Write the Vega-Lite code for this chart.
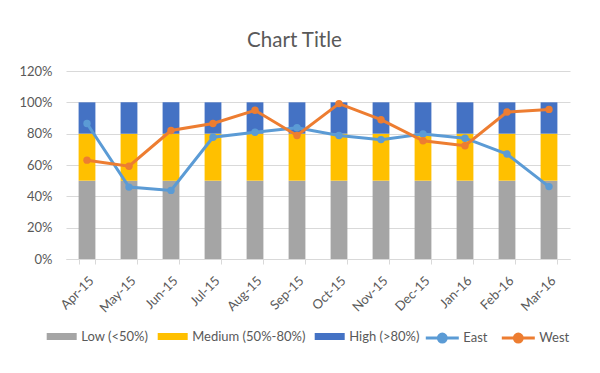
{
  "$schema": "https://vega.github.io/schema/vega-lite/v6.json",
  "width": 504,
  "height": 188,
  "autosize": "none",
  "padding": {"top": 71, "left": 66, "right": 30, "bottom": 114},
  "background": "white",
  "title": {"text": "Chart Title", "frame": "bounds", "anchor": "middle", "fontSize": 20.5, "fontWeight": "normal", "color": "#595959", "font": "Lato", "offset": 14},
  "config": {
    "view": {"stroke": null},
    "font": "Lato",
    "axis": {"labelFont": "Lato", "labelFontSize": 13, "labelColor": "#595959", "gridColor": "#d9d9d9", "domainColor": "#d9d9d9", "tickColor": "#d9d9d9"},
    "legend": {"labelFont": "Lato", "labelFontSize": 13, "labelColor": "#595959"}
  },
  "datasets": {
    "bars": [
      {"month": "Apr-15", "band": "Low (<50%)", "ord": 1, "value": 0.5},
      {"month": "Apr-15", "band": "Medium (50%-80%)", "ord": 2, "value": 0.3},
      {"month": "Apr-15", "band": "High (>80%)", "ord": 3, "value": 0.2},
      {"month": "May-15", "band": "Low (<50%)", "ord": 1, "value": 0.5},
      {"month": "May-15", "band": "Medium (50%-80%)", "ord": 2, "value": 0.3},
      {"month": "May-15", "band": "High (>80%)", "ord": 3, "value": 0.2},
      {"month": "Jun-15", "band": "Low (<50%)", "ord": 1, "value": 0.5},
      {"month": "Jun-15", "band": "Medium (50%-80%)", "ord": 2, "value": 0.3},
      {"month": "Jun-15", "band": "High (>80%)", "ord": 3, "value": 0.2},
      {"month": "Jul-15", "band": "Low (<50%)", "ord": 1, "value": 0.5},
      {"month": "Jul-15", "band": "Medium (50%-80%)", "ord": 2, "value": 0.3},
      {"month": "Jul-15", "band": "High (>80%)", "ord": 3, "value": 0.2},
      {"month": "Aug-15", "band": "Low (<50%)", "ord": 1, "value": 0.5},
      {"month": "Aug-15", "band": "Medium (50%-80%)", "ord": 2, "value": 0.3},
      {"month": "Aug-15", "band": "High (>80%)", "ord": 3, "value": 0.2},
      {"month": "Sep-15", "band": "Low (<50%)", "ord": 1, "value": 0.5},
      {"month": "Sep-15", "band": "Medium (50%-80%)", "ord": 2, "value": 0.3},
      {"month": "Sep-15", "band": "High (>80%)", "ord": 3, "value": 0.2},
      {"month": "Oct-15", "band": "Low (<50%)", "ord": 1, "value": 0.5},
      {"month": "Oct-15", "band": "Medium (50%-80%)", "ord": 2, "value": 0.3},
      {"month": "Oct-15", "band": "High (>80%)", "ord": 3, "value": 0.2},
      {"month": "Nov-15", "band": "Low (<50%)", "ord": 1, "value": 0.5},
      {"month": "Nov-15", "band": "Medium (50%-80%)", "ord": 2, "value": 0.3},
      {"month": "Nov-15", "band": "High (>80%)", "ord": 3, "value": 0.2},
      {"month": "Dec-15", "band": "Low (<50%)", "ord": 1, "value": 0.5},
      {"month": "Dec-15", "band": "Medium (50%-80%)", "ord": 2, "value": 0.3},
      {"month": "Dec-15", "band": "High (>80%)", "ord": 3, "value": 0.2},
      {"month": "Jan-16", "band": "Low (<50%)", "ord": 1, "value": 0.5},
      {"month": "Jan-16", "band": "Medium (50%-80%)", "ord": 2, "value": 0.3},
      {"month": "Jan-16", "band": "High (>80%)", "ord": 3, "value": 0.2},
      {"month": "Feb-16", "band": "Low (<50%)", "ord": 1, "value": 0.5},
      {"month": "Feb-16", "band": "Medium (50%-80%)", "ord": 2, "value": 0.3},
      {"month": "Feb-16", "band": "High (>80%)", "ord": 3, "value": 0.2},
      {"month": "Mar-16", "band": "Low (<50%)", "ord": 1, "value": 0.5},
      {"month": "Mar-16", "band": "Medium (50%-80%)", "ord": 2, "value": 0.3},
      {"month": "Mar-16", "band": "High (>80%)", "ord": 3, "value": 0.2}
    ],
    "lines": [
      {"month": "Apr-15", "region": "East", "value": 0.865},
      {"month": "May-15", "region": "East", "value": 0.459},
      {"month": "Jun-15", "region": "East", "value": 0.438},
      {"month": "Jul-15", "region": "East", "value": 0.777},
      {"month": "Aug-15", "region": "East", "value": 0.809},
      {"month": "Sep-15", "region": "East", "value": 0.838},
      {"month": "Oct-15", "region": "East", "value": 0.788},
      {"month": "Nov-15", "region": "East", "value": 0.762},
      {"month": "Dec-15", "region": "East", "value": 0.798},
      {"month": "Jan-16", "region": "East", "value": 0.771},
      {"month": "Feb-16", "region": "East", "value": 0.67},
      {"month": "Mar-16", "region": "East", "value": 0.462},
      {"month": "Apr-15", "region": "West", "value": 0.631},
      {"month": "May-15", "region": "West", "value": 0.592},
      {"month": "Jun-15", "region": "West", "value": 0.82},
      {"month": "Jul-15", "region": "West", "value": 0.865},
      {"month": "Aug-15", "region": "West", "value": 0.949},
      {"month": "Sep-15", "region": "West", "value": 0.788},
      {"month": "Oct-15", "region": "West", "value": 0.992},
      {"month": "Nov-15", "region": "West", "value": 0.889},
      {"month": "Dec-15", "region": "West", "value": 0.755},
      {"month": "Jan-16", "region": "West", "value": 0.723},
      {"month": "Feb-16", "region": "West", "value": 0.938},
      {"month": "Mar-16", "region": "West", "value": 0.955}
    ]
  },
  "encoding": {
    "x": {"field": "month", "type": "nominal", "sort": null,
      "scale": {"paddingInner": 0.6, "paddingOuter": 0.3},
      "axis": {"title": null, "labelAngle": -45, "tickBand": "extent", "tickSize": 5, "labelPadding": 10, "grid": false}},
    "y": {"field": "value", "type": "quantitative",
      "scale": {"domain": [0, 1.2], "nice": false},
      "axis": {"title": null, "format": ".0%", "values": [0, 0.2, 0.4, 0.6, 0.8, 1.0, 1.2], "labelOverlap": false, "domain": false, "ticks": false, "tickSize": 0, "labelPadding": 14}}
  },
  "layer": [
    {
      "data": {"name": "bars"},
      "mark": {"type": "bar"},
      "encoding": {
        "y": {"field": "value", "type": "quantitative", "stack": "zero"},
        "color": {"field": "band", "type": "nominal",
          "scale": {"domain": ["Low (<50%)", "Medium (50%-80%)", "High (>80%)"], "range": ["#A5A5A5", "#FFC000", "#4472C4"]},
          "legend": {"title": null, "orient": "none", "direction": "horizontal", "columns": 3, "legendX": -19.3, "legendY": 250.5,
            "symbolType": "M-1,-0.233H1V0.233H-1Z", "symbolSize": 900, "symbolStrokeWidth": 0, "labelOffset": 4.5, "columnPadding": 9}},
        "order": {"field": "ord", "type": "quantitative"}
      }
    },
    {
      "data": {"name": "lines"},
      "mark": {"type": "line", "strokeWidth": 3},
      "encoding": {
        "stroke": {"field": "region", "type": "nominal",
          "scale": {"domain": ["East", "West"], "range": ["#5B9BD5", "#ED7D31"]},
          "legend": {"title": null, "orient": "none", "direction": "horizontal", "columns": 2, "legendX": 358.3, "legendY": 249,
            "symbolType": "M-1,0H1M0.24,0A0.24,0.24,0,1,1,-0.24,0A0.24,0.24,0,1,1,0.24,0", "symbolSize": 1089, "symbolStrokeWidth": 3, "labelOffset": 3, "columnPadding": 7}}
      }
    },
    {
      "data": {"name": "lines"},
      "mark": {"type": "circle", "size": 55, "opacity": 1},
      "encoding": {
        "fill": {"field": "region", "type": "nominal",
          "scale": {"domain": ["East", "West"], "range": ["#5B9BD5", "#ED7D31"]},
          "legend": {"title": null, "orient": "none", "direction": "horizontal", "columns": 2, "legendX": 358.3, "legendY": 249,
            "symbolType": "M-1,0H1M0.24,0A0.24,0.24,0,1,1,-0.24,0A0.24,0.24,0,1,1,0.24,0", "symbolSize": 1089, "symbolStrokeWidth": 3, "labelOffset": 3, "columnPadding": 7}}
      }
    }
  ]
}
